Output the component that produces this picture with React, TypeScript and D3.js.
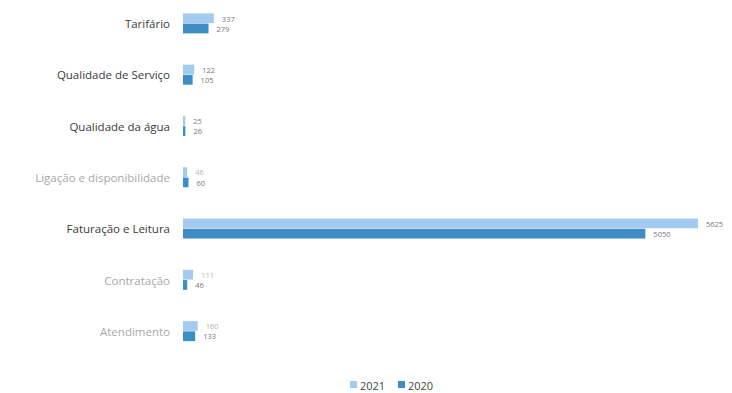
import React from "react";
import * as d3 from "d3";

const categories = [
  "Tarifário",
  "Qualidade de Serviço",
  "Qualidade da água",
  "Ligação e disponibilidade",
  "Faturação e Leitura",
  "Contratação",
  "Atendimento",
];
const values2021 = [337, 122, 25, 46, 5625, 111, 160];
const values2020 = [279, 105, 26, 60, 5050, 46, 133];
const labelTone = ["dark", "dark", "dark", "light", "dark", "light", "light"];
const seriesNames = ["2021", "2020"];

const W = 732;
const H = 393;
const C2021 = "#a3cbef";
const C2020 = "#3f8dc5";

export default function App() {
  const x = d3.scaleLinear().domain([0, 5625]).range([183, 698]);
  const y = d3.scaleBand<string>().domain(categories).range([-2, 357]).paddingInner(0.6).paddingOuter(0.3);
  const bh = y.bandwidth() / 2;
  const series = [values2021, values2020];
  const colors = [C2021, C2020];
  const font = "'Open Sans', sans-serif";
  return (
    <svg width={W} height={H} style={{ position: "absolute", left: 0, top: 0, background: "#fff" }}>
      {categories.map((c, i) => {
        const y0 = y(c)!;
        return (
          <g key={c}>
            <text
              x={170}
              y={y0 + y.bandwidth() / 2}
              textAnchor="end"
              dominantBaseline="central"
              fontFamily={font}
              fontSize={11.5}
              fill={labelTone[i] === "dark" ? "#3a3a3a" : "#a8a8a8"}
            >
              {c}
            </text>
            {series.map((vals, s) => (
              <g key={s}>
                <rect x={x(0)} y={y0 + s * bh} width={x(vals[i]) - x(0)} height={bh - 0.5} fill={colors[s]} />
                <text
                  x={x(vals[i]) + 8}
                  y={y0 + s * bh + bh / 2}
                  dominantBaseline="central"
                  fontFamily={font}
                  fontSize={7.5}
                  fill={labelTone[i] === "dark" || s === 1 ? "#777" : "#b5b5b5"}
                >
                  {vals[i]}
                </text>
              </g>
            ))}
          </g>
        );
      })}
      <g fontFamily={font} fontSize={11} fill="#444">
        {seriesNames.map((n, s) => {
          const lx = s === 0 ? 350 : 398;
          return (
            <g key={n}>
              <rect x={lx} y={381} width={7} height={7} fill={colors[s]} />
              <text x={lx + 10} y={385} dominantBaseline="central">{n}</text>
            </g>
          );
        })}
      </g>
    </svg>
  );
}
